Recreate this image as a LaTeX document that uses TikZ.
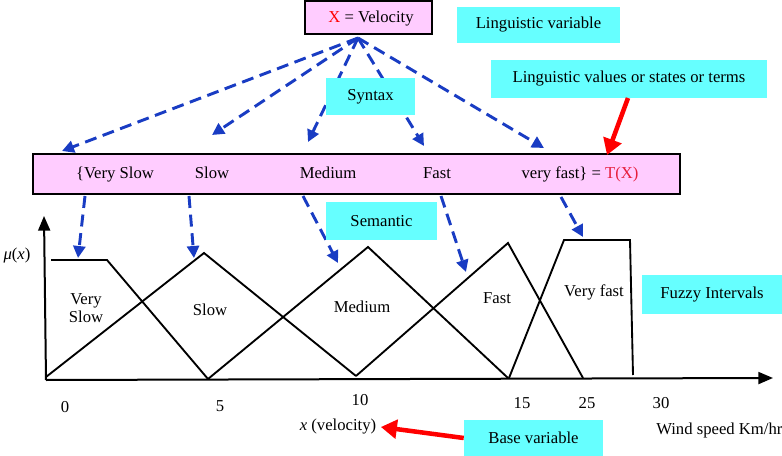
\documentclass[tikz,border=0pt]{standalone}
\usepackage{fontspec}
\setmainfont{Liberation Serif}
\usetikzlibrary{arrows.meta}
\definecolor{termpink}{RGB}{255,204,255}
\definecolor{tagcyan}{RGB}{102,255,255}
\definecolor{dashblue}{RGB}{25,60,195}
\definecolor{termred}{RGB}{230,30,60}
\tikzset{
	pinkbox/.style={draw=black, line width=0.9pt, fill=termpink, inner sep=0pt},
	tagbox/.style={fill=tagcyan, inner sep=0pt},
	termword/.style={anchor=base, inner sep=0pt},
	semarrow/.style={draw=dashblue, line width=2.2pt, dash pattern=on 9pt off 5pt,
		-{Triangle[length=9pt,width=9pt,fill=dashblue]}},
	redarrow/.style={draw=red, line width=3.4pt, -{Triangle[length=12pt,width=14pt]}},
	mfline/.style={line width=1.4pt, line join=miter}
}
\begin{document}
\begin{tikzpicture}[x=0.75pt,y=-0.75pt,font=\fontsize{12.5}{14}\selectfont]
		\useasboundingbox (0,0) rectangle (782,456);
		
		% variable and its set of terms
		\node[pinkbox, minimum width=95.25pt, minimum height=24.75pt] (var) at (368.5,17.5) {};
		\node[termword] (vartext) at (371,23) {\textcolor{red}{X} = Velocity};
		\node[pinkbox, minimum width=485.25pt, minimum height=30pt] (terms) at (356.5,174) {};
		\node[termword] (tvs) at (115,179) {\{Very Slow};
		\node[termword] (ts) at (212,179) {Slow};
		\node[termword] (tm) at (328,179) {Medium};
		\node[termword] (tf) at (437,179) {Fast};
		\node[termword] (tvf) at (580,179) {very fast\} = \textcolor{termred}{T(X)}};
		
		% syntax arrows
		\coordinate (hub) at (358,38);
		\coordinate (avs) at (62,151);
		\coordinate (as) at (212,135);
		\coordinate (am) at (308,142);
		\coordinate (af) at (424,146);
		\coordinate (avf) at (544,148);
		\foreach \t in {avs,as,am,af,avf}
			\draw[semarrow] (hub) -- (\t);
		
		% semantic arrows
		\coordinate (svs) at (85,196);  \coordinate (mvs) at (78,258);
		\coordinate (ss) at (189,196);  \coordinate (ms) at (194,258);
		\coordinate (sm) at (303,196);  \coordinate (mm) at (338,263);
		\coordinate (sf) at (441,196);  \coordinate (mf) at (466,272);
		\coordinate (svf) at (561,197); \coordinate (mvf) at (583,237);
		\foreach \a/\b in {svs/mvs,ss/ms,sm/mm,sf/mf,svf/mvf}
			\draw[semarrow] (\a) -- (\b);
		
		% cyan tags (on top of the arrows)
		\node[tagbox, minimum width=122.25pt, minimum height=27pt] (lingvar) at (538.5,25) {Linguistic variable};
		\node[tagbox, minimum width=207pt, minimum height=28.5pt] (lingval) at (629,79) {Linguistic values or states or terms};
		\node[tagbox, minimum width=66.75pt, minimum height=27.75pt] (syntax) at (370.5,96.5) {Syntax};
		\node[tagbox, minimum width=83.25pt, minimum height=28.5pt] (semantic) at (381.5,221) {Semantic};
		\node[tagbox, minimum width=105pt, minimum height=29.25pt] (fuzzy) at (712,294.5) {Fuzzy Intervals};
		\node[tagbox, minimum width=104.25pt, minimum height=27pt] (basevar) at (533.5,438) {Base variable};
		
		% red arrows
		\coordinate (redtip) at (607,155);
		\draw[redarrow] (628,98) -- (redtip);
		
		% axes
		\coordinate (origin) at (46,380);
		\coordinate (ytop) at (44,216);
		\coordinate (xend) at (773,378);
		\draw[line width=1.5pt, -{Triangle[length=11pt,width=9pt]}] (origin) -- (ytop);
		\draw[line width=1.5pt, -{Triangle[length=11pt,width=9pt]}] (origin) -- (xend);
		\node (mu) at (17,255) {\textit{μ}(\textit{x})};
		
		% membership functions
		\draw[mfline] (51,260) -- (107,260) -- (208,379);
		\draw[mfline] (46,377) -- (204,253) -- (356,376);
		\draw[mfline] (208,379) -- (368,247) -- (508,378);
		\draw[mfline] (356,376) -- (508,243) -- (583,378);
		\draw[mfline] (509,378) -- (564,240) -- (630,240) -- (633,375);
		\node[align=center, inner sep=0pt] (lvs) at (86,308) {Very\\Slow};
		\node (ls) at (210,310) {Slow};
		\node (lm) at (362,307) {Medium};
		\node (lf) at (497,298) {Fast};
		\node (lvf) at (594,292) {Very fast};
		
		% ticks
		\foreach \v/\px/\py in {0/65/407,5/220/406,10/360/400,15/522/403,25/587/403,30/661/403}
			\node (tick\v) at (\px,\py) {\v};
		\node (xlab) at (338,427) {\textit{x} (velocity)};
		\node[anchor=west, inner sep=0pt] (wind) at (656,430) {Wind speed Km/hr};
		\draw[redarrow] (basevar.west) -- (xlab.east);
	\end{tikzpicture}
\end{document}
